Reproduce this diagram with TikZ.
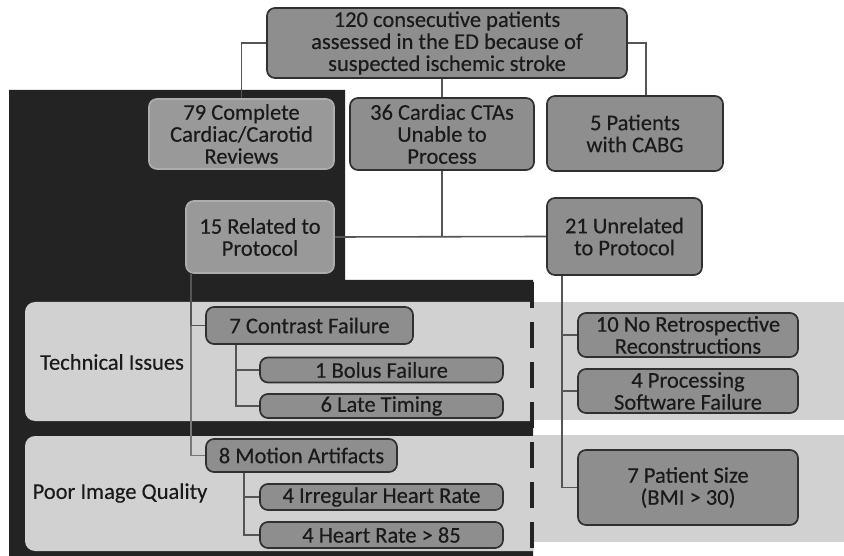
\documentclass[tikz,border=0pt]{standalone}
\usepackage{fontspec}
\setmainfont{Carlito}[FakeBold=0.3]
\definecolor{boxfill}{HTML}{8E8E8E}
\definecolor{boxlite}{HTML}{999999}
\definecolor{boxline}{HTML}{303030}
\definecolor{bandfill}{HTML}{D1D1D1}
\definecolor{backdrop}{HTML}{232323}
\definecolor{wirecol}{HTML}{555555}
\definecolor{ink}{HTML}{1A1A1A}
\begin{document}
\begin{tikzpicture}[x=1pt,y=-1pt,
  box/.style={draw=boxline,line width=1.7pt,fill=boxfill,rounded corners=8pt,
    align=center,inner sep=0pt,text=ink,font=\fontsize{22.5}{22}\selectfont},
  litebox/.style={box,draw=boxlite!80!white,fill=boxlite},
  label/.style={text=ink,font=\fontsize{22.5}{22}\selectfont},
  wire/.style={draw=wirecol,line width=1.6pt}]
\useasboundingbox (0,0) rectangle (844,556);
\fill[white] (0,0) rectangle (844,556);
\fill[backdrop] (9,90) -- (345,90) -- (345,280) -- (533,280) -- (533,556) -- (9,556) -- cycle;
\begin{scope}
\clip (0,0) rectangle (533,556);
\fill[bandfill,rounded corners=10pt] (25,302) rectangle (560,421);
\fill[bandfill,rounded corners=10pt] (25,436) rectangle (560,551);
\end{scope}
\fill[bandfill] (533,302) rectangle (844,420);
\fill[bandfill] (533,435) rectangle (844,542);
\draw[backdrop,line width=4.5pt,dash pattern=on 26pt off 14pt,dash phase=-2pt]
  (532,280) -- (532,556);

\node[label] (tech) at (112,362) {Technical Issues};
\node[label] (poor) at (120,493) {Poor Image Quality};

\node[box,minimum width=360pt,minimum height=70pt] (top) at (447,43)
  {120 consecutive patients\\assessed in the ED because of\\suspected ischemic stroke};
\node[litebox,minimum width=185pt,minimum height=70pt] (cta79) at (241.5,134)
  {79 Complete\\Cardiac/Carotid\\Reviews};
\node[box,minimum width=184pt,minimum height=72pt] (cta36) at (442,134)
  {36 Cardiac CTAs\\Unable to\\Process};
\node[box,minimum width=176pt,minimum height=75pt] (cabg) at (635,133.5)
  {5 Patients\\with CABG};
\node[litebox,minimum width=148pt,minimum height=72pt] (rel15) at (260,237)
  {15 Related to\\Protocol};
\node[box,minimum width=155pt,minimum height=77pt] (unrel21) at (624.5,236.5)
  {21 Unrelated\\to Protocol};

\node[box,minimum width=207pt,minimum height=37pt] (contrast) at (309.5,325.5)
  {7 Contrast Failure};
\node[box,minimum width=243pt,minimum height=25pt] (bolus) at (381.5,370)
  {1 Bolus Failure};
\node[box,minimum width=243pt,minimum height=24pt] (late) at (381.5,406)
  {6 Late Timing};
\node[box,minimum width=191pt,minimum height=33pt] (motion) at (301.5,455.5)
  {8 Motion Artifacts};
\node[box,minimum width=243pt,minimum height=26pt] (irreg) at (381.5,497)
  {4 Irregular Heart Rate};
\node[box,minimum width=243pt,minimum height=26pt] (hr85) at (381.5,535)
  {4 Heart Rate > 85};

\node[box,minimum width=220pt,minimum height=44pt] (noretro) at (688,335)
  {10 No Retrospective\\Reconstructions};
\node[box,minimum width=220pt,minimum height=44pt] (software) at (688,391)
  {4 Processing\\Software Failure};
\node[box,minimum width=220pt,minimum height=75pt] (size) at (688,487.5)
  {7 Patient Size\\(BMI > 30)};

\draw[wire] (top.west) -| (cta79.north);
\draw[wire] (top.east) -| ([xshift=11pt]cabg.north);
\draw[wire] (cta36.north) -- (cta36.north |- top.south);
\draw[wire] (cta36.south) -- (cta36.south |- rel15.east);
\draw[wire] (rel15.east) -- (unrel21.west);
\draw[wire,draw=wirecol!80!white] ([xshift=6pt]rel15.south west) |- (motion.west);
\draw[wire] ([xshift=6pt]rel15.south west) |- (contrast.west);
\draw[wire] ([xshift=31pt]contrast.south west) |- (bolus.west);
\draw[wire] ([xshift=31pt]contrast.south west) |- (late.west);
\draw[wire] ([xshift=39pt]motion.south west) |- (irreg.west);
\draw[wire] ([xshift=39pt]motion.south west) |- (hr85.west);
\draw[wire] ([xshift=16pt]unrel21.south west) |- (noretro.west);
\draw[wire] ([xshift=16pt]unrel21.south west) |- (software.west);
\draw[wire] ([xshift=16pt]unrel21.south west) |- (size.west);
\end{tikzpicture}
\end{document}
